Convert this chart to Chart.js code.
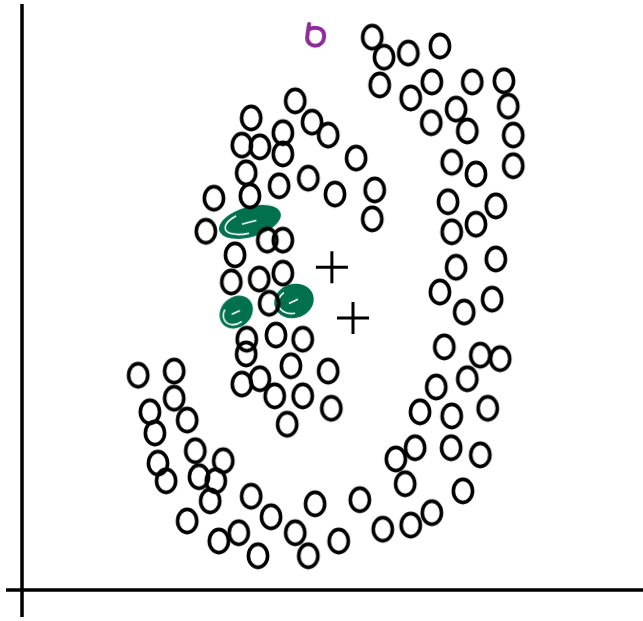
<!DOCTYPE html>
<html>
<head>
<meta charset="utf-8">
<script src="https://cdn.jsdelivr.net/npm/chart.js@4.4.0/dist/chart.umd.min.js"></script>
<style>
  html, body { margin: 0; padding: 0; background: #fff; }
  #chart { display: block; }
</style>
</head>
<body>
<canvas id="chart" width="643" height="621"></canvas>
<script>
// positions, axis units 0-100 (no tick labels in the original)
const outerArcX = [56.4,58.3,62.2,67.3,57.6,62.6,66.0,72.5,77.6,69.9,71.7,65.9,78.3,79.1,79.1,69.2,73.1,68.6,76.3,73.1,69.2,76.3,69.9,67.3,75.7,71.2,68.0,73.8,77.0,71.7,66.7,75.0,69.2,64.1,63.3,69.1,73.8,60.2,61.7,71.0,66.0,62.6,58.1,54.4,51.0,47.2,46.1,44.0,40.1,36.9,38.0,34.9,31.7,26.6,30.3,31.2,32.4,28.5,27.9,23.2,21.9,21.4,20.6,26.6,24.5,24.5,18.7];
const outerArcY = [93.7,90.3,91.0,92.2,85.6,83.4,86.1,86.1,86.3,81.5,77.8,79.2,82.0,77.1,71.9,72.5,70.5,65.8,65.1,62.0,60.7,56.1,54.7,50.5,49.3,47.1,41.2,39.8,39.2,35.8,34.4,30.8,29.5,30.2,24.1,24.1,22.9,22.2,18.0,16.8,13.1,11.0,10.3,15.3,8.3,14.6,5.8,9.7,12.4,15.9,5.8,9.7,8.3,11.7,15.1,18.5,21.9,19.2,23.6,18.5,21.5,26.6,30.2,28.8,32.5,37.1,36.4];
const innerArcX = [44.0,46.7,49.3,36.9,42.0,42.0,35.4,38.3,36.1,41.4,46.1,53.8,50.4,56.8,56.4,36.7,30.9,29.6,39.5,42.0,34.3,33.7,38.2,42.0,39.8,36.2,36.1,40.9,45.2,43.3,49.3,35.4,38.3,40.7,45.2,49.8,42.7];
const innerArcY = [82.9,79.3,77.1,80.0,77.5,73.9,75.4,75.1,70.7,68.5,69.8,73.2,67.1,67.8,62.9,66.8,66.4,60.8,59.3,59.3,56.8,52.2,52.7,53.7,48.6,42.5,40.0,43.2,42.5,38.0,37.1,34.9,35.8,32.9,32.9,30.8,28.1];
const centroidX = [49.9, 53.3];
const centroidY = [54.7, 46.1];
const highlightX = [36.7, 34.5, 43.8];
const highlightY = [62.4, 47.1, 49.0];
const outlierX = [47.2];
const outlierY = [93.9];

const GREEN = '#00704f';
const PURPLE = '#8d2b9b';

function toPoints(xs, ys) {
  return xs.map((x, i) => ({ x: x, y: ys[i] }));
}

// hand drawn ring, a bit taller than wide
function ringImage() {
  const c = document.createElement('canvas');
  c.width = 30; c.height = 34;
  const g = c.getContext('2d');
  g.strokeStyle = '#000';
  g.lineWidth = 3.6;
  g.beginPath();
  g.ellipse(15, 17, 9.6, 11.6, 0, 0, Math.PI * 2);
  g.stroke();
  return c;
}

// green scribbled-over circles
function blobImage(rx, ry, tilt) {
  const c = document.createElement('canvas');
  c.width = Math.ceil(rx * 2 + 10); c.height = Math.ceil(rx * 2 + 10);
  const g = c.getContext('2d');
  const cx = c.width / 2, cy = c.height / 2;
  g.fillStyle = GREEN;
  g.beginPath();
  g.ellipse(cx, cy, rx, ry, tilt, 0, Math.PI * 2);
  g.fill();
  g.strokeStyle = '#fff';
  g.lineWidth = 1.6;
  g.beginPath();
  g.ellipse(cx, cy, rx * 0.8, ry * 0.72, tilt, Math.PI * 0.55, Math.PI * 1.35);
  g.stroke();
  g.beginPath();
  g.moveTo(cx - rx * 0.25, cy + ry * 0.15);
  g.lineTo(cx + rx * 0.2, cy - ry * 0.1);
  g.stroke();
  return c;
}

function outlierImage() {
  const c = document.createElement('canvas');
  c.width = 32; c.height = 36;
  const g = c.getContext('2d');
  g.strokeStyle = PURPLE;
  g.lineWidth = 4;
  g.lineCap = 'round';
  g.lineJoin = 'round';
  g.beginPath();
  g.moveTo(10, 6);
  g.lineTo(9, 12);
  g.bezierCurveTo(14, 8, 25, 9, 25, 18);
  g.bezierCurveTo(25, 30, 9, 31, 8, 20);
  g.lineTo(9, 12);
  g.stroke();
  return c;
}

const ring = ringImage();
const blobs = [blobImage(32, 15, -0.28), blobImage(18, 15, -0.75), blobImage(20, 17, -0.3)];

// axis lines that cross and overhang at the origin
const sketchAxes = {
  id: 'sketchAxes',
  beforeDatasetsDraw(chart) {
    const a = chart.chartArea;
    const g = chart.ctx;
    g.save();
    g.strokeStyle = '#000';
    g.lineWidth = 3.5;
    g.beginPath();
    g.moveTo(a.left, a.top + 4);
    g.lineTo(a.left, a.bottom + 27);
    g.moveTo(a.left - 16, a.bottom);
    g.lineTo(a.right, a.bottom);
    g.stroke();
    g.restore();
  }
};

new Chart(document.getElementById('chart'), {
  type: 'scatter',
  data: {
    datasets: [
      { data: toPoints(outerArcX, outerArcY), pointStyle: ring, pointRadius: 11 },
      { data: toPoints(innerArcX, innerArcY), pointStyle: ring, pointRadius: 11 },
      { data: toPoints(highlightX, highlightY), pointStyle: ctx => blobs[ctx.dataIndex], pointRadius: 16 },
      { data: toPoints(outlierX, outlierY), pointStyle: outlierImage(), pointRadius: 12 },
      {
        data: toPoints(centroidX, centroidY),
        pointStyle: 'cross',
        pointRadius: 16,
        borderColor: '#000',
        borderWidth: 3
      }
    ]
  },
  options: {
    responsive: false,
    animation: false,
    events: [],
    layout: { autoPadding: false, padding: { left: 22, right: 0, top: 0, bottom: 31 } },
    plugins: { legend: { display: false }, tooltip: { enabled: false } },
    scales: {
      x: { type: 'linear', min: 0, max: 100, display: false },
      y: { type: 'linear', min: 0, max: 100, display: false }
    }
  },
  plugins: [sketchAxes]
});
</script>
</body>
</html>
